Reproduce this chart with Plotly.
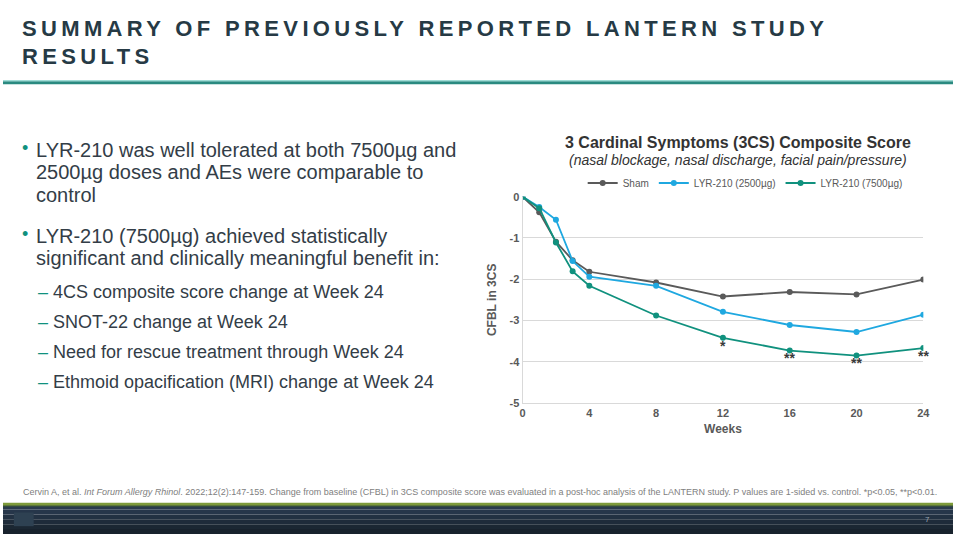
import plotly.graph_objects as go

weeks = [0, 1, 2, 3, 4, 8, 12, 16, 20, 24]
sham = [0, -0.38, -1.09, -1.54, -1.82, -2.08, -2.42, -2.31, -2.37, -2.01]
lyr2500 = [0, -0.25, -0.56, -1.56, -1.94, -2.16, -2.79, -3.11, -3.28, -2.86]
lyr7500 = [0, -0.28, -1.11, -1.81, -2.16, -2.88, -3.42, -3.73, -3.85, -3.67]
series_names = ["Sham", "LYR-210 (2500µg)", "LYR-210 (7500µg)"]
series_colors = ["#5a5a5a", "#1fa8e0", "#10917e"]

sig_weeks = [12, 16, 20, 24]
sig_labels = ["*", "**", "**", "**"]
sig_y = [-3.62, -3.9, -4.04, -3.87]

x_ticks = [0, 4, 8, 12, 16, 20, 24]
y_ticks = [0, -1, -2, -3, -4, -5]
y_tick_text = ["0", "-1", "-2", "-3", "-4", "-5"]

W, H = 960, 540
def px(x):
    return x / W
def py(y):
    return 1 - y / H

fig = go.Figure()
for name, vals, col in zip(series_names, [sham, lyr2500, lyr7500], series_colors):
    fig.add_trace(go.Scatter(x=weeks, y=vals, name=name, mode="lines+markers",
                             line=dict(color=col, width=1.8),
                             marker=dict(color=col, size=6)))

text_col = "#333d47"
tick_col = "#595959"

fig.update_layout(
    width=W, height=H, autosize=False,
    margin=dict(l=0, r=0, t=0, b=0),
    paper_bgcolor="white", plot_bgcolor="white",
    font=dict(family="Liberation Sans, Arial, sans-serif", color=text_col),
    showlegend=True,
    legend=dict(orientation="h", x=px(750), xanchor="center", y=py(181), yanchor="middle",
                font=dict(size=10, color="#595959"), itemwidth=30,
                bgcolor="rgba(0,0,0,0)", tracegroupgap=0, itemsizing="trace"),
    xaxis=dict(domain=[px(525), px(930)], range=[0, 24], tickvals=x_ticks,
               ticktext=["<b>%d</b>" % v for v in x_ticks],
               showgrid=False, zeroline=False, showline=True, linecolor="#d9d9d9", linewidth=1,
               ticks="", tickfont=dict(size=11, color=tick_col),
               title=dict(text="<b>Weeks</b>", font=dict(size=12, color=tick_col), standoff=6)),
    yaxis=dict(domain=[py(406), py(195)], range=[-5, 0], tickvals=y_ticks,
               ticktext=["<b>" + t + "</b>" for t in y_tick_text],
               showgrid=True, gridcolor="#d9d9d9", gridwidth=1, zeroline=False,
               showline=True, linecolor="#d9d9d9", linewidth=1, ticks="",
               tickfont=dict(size=11, color=tick_col),
               title=dict(text="<b>CFBL in 3CS</b>", font=dict(size=12, color=tick_col), standoff=10)),
)

# significance markers
for xw, lab, yv in zip(sig_weeks, sig_labels, sig_y):
    fig.add_annotation(x=xw, y=yv, xref="x", yref="y", text="<b>" + lab + "</b>",
                       showarrow=False, font=dict(size=14, color="#3a3a3a"))

# chart titles
fig.add_annotation(x=px(743), y=py(140), xref="paper", yref="paper", showarrow=False,
                   text="<b>3 Cardinal Symptoms (3CS) Composite Score</b>",
                   font=dict(size=16, color="#333333"), xanchor="center", yanchor="middle")
fig.add_annotation(x=px(743), y=py(158), xref="paper", yref="paper", showarrow=False,
                   text="<i>(nasal blockage, nasal discharge, facial pain/pressure)</i>",
                   font=dict(size=14, color="#333333"), xanchor="center", yanchor="middle")

# slide title
title_lines = ["SUMMARY OF PREVIOUSLY REPORTED LANTERN STUDY", "RESULTS"]
for i, t in enumerate(title_lines):
    fig.add_annotation(x=px(17), y=py(23 + 29 * i), xref="paper", yref="paper", showarrow=False,
                       text='<span style="letter-spacing:4.35px"><b>' + t + '</b></span>',
                       font=dict(size=22, color="#263a45"), xanchor="left", yanchor="middle")

# bullets
bullets = [
    ["LYR-210 was well tolerated at both 7500µg and", "2500µg doses and AEs were comparable to", "control"],
    ["LYR-210 (7500µg) achieved statistically", "significant and clinically meaningful benefit in:"],
]
bullet_y = [147, 235]
for lines, y0 in zip(bullets, bullet_y):
    fig.add_annotation(x=px(22), y=py(y0 - 2), xref="paper", yref="paper", showarrow=False,
                       text="•", font=dict(size=18, color="#10917e"), xanchor="center", yanchor="middle")
    for j, ln in enumerate(lines):
        fig.add_annotation(x=px(31), y=py(y0 + 23 * j), xref="paper", yref="paper", showarrow=False,
                           text=ln, font=dict(size=20, color=text_col), xanchor="left", yanchor="middle")

subs = ["4CS composite score change at Week 24", "SNOT-22 change at Week 24",
        "Need for rescue treatment through Week 24", "Ethmoid opacification (MRI) change at Week 24"]
sub_y = [292, 323, 354, 385]
for s, y0 in zip(subs, sub_y):
    fig.add_annotation(x=px(40), y=py(y0), xref="paper", yref="paper", showarrow=False,
                       text="–", font=dict(size=18, color="#10917e"), xanchor="center", yanchor="middle")
    fig.add_annotation(x=px(48), y=py(y0), xref="paper", yref="paper", showarrow=False,
                       text=s, font=dict(size=18, color=text_col), xanchor="left", yanchor="middle")

# footnote
fig.add_annotation(x=px(18), y=py(497), xref="paper", yref="paper", showarrow=False,
                   text="Cervin A, et al. <i>Int Forum Allergy Rhinol</i>. 2022;12(2):147-159. Change from baseline (CFBL) in 3CS composite score was evaluated in a post-hoc analysis of the LANTERN study. P values are 1-sided vs. control. *p<0.05, **p<0.01.",
                   font=dict(size=9, color="#808080"), xanchor="left", yanchor="middle")

# divider line
fig.add_shape(type="rect", xref="paper", yref="paper", x0=0, x1=1, y0=py(80), y1=py(77),
              fillcolor="#2a8a80", line=dict(width=0), layer="above")
fig.add_shape(type="rect", xref="paper", yref="paper", x0=0, x1=1, y0=py(77), y1=py(76),
              fillcolor="#7fd0c8", line=dict(width=0), layer="above")

# bottom bar
bands = ["#2a3b4c", "#26364a", "#223142", "#1e2b3a", "#1b2733", "#18222d"]
top = 510
step = (540 - top) / len(bands)
for k, c in enumerate(bands):
    fig.add_shape(type="rect", xref="paper", yref="paper", x0=0, x1=1,
                  y0=py(top + step * (k + 1)), y1=py(top + step * k),
                  fillcolor=c, line=dict(width=0), layer="above")
fig.add_shape(type="rect", xref="paper", yref="paper", x0=0, x1=1, y0=py(511), y1=py(508),
              fillcolor="#7d9a3a", line=dict(width=0), layer="above")
fig.add_shape(type="rect", xref="paper", yref="paper", x0=0, x1=1, y0=py(512), y1=py(511),
              fillcolor="#3e5a36", line=dict(width=0), layer="above")
fig.add_shape(type="rect", xref="paper", yref="paper", x0=px(11), x1=px(31), y0=py(532), y1=py(518),
              fillcolor="#2e4152", line=dict(width=0), layer="above")
fig.add_annotation(x=px(934), y=py(525), xref="paper", yref="paper", showarrow=False,
                   text="7", font=dict(size=8, color="#9aa5b0"), xanchor="center", yanchor="middle")

post = ("document.documentElement.style.margin='0';document.documentElement.style.padding='0';"
        "document.documentElement.style.overflow='hidden';"
        "document.body.style.margin='0';document.body.style.padding='0';document.body.style.overflow='hidden';"
        "var d=document.getElementById('{plot_id}');d.style.position='fixed';d.style.left='0';d.style.top='0';")

fig.write_html("out.html", config={"displayModeBar": False}, post_script=post)
